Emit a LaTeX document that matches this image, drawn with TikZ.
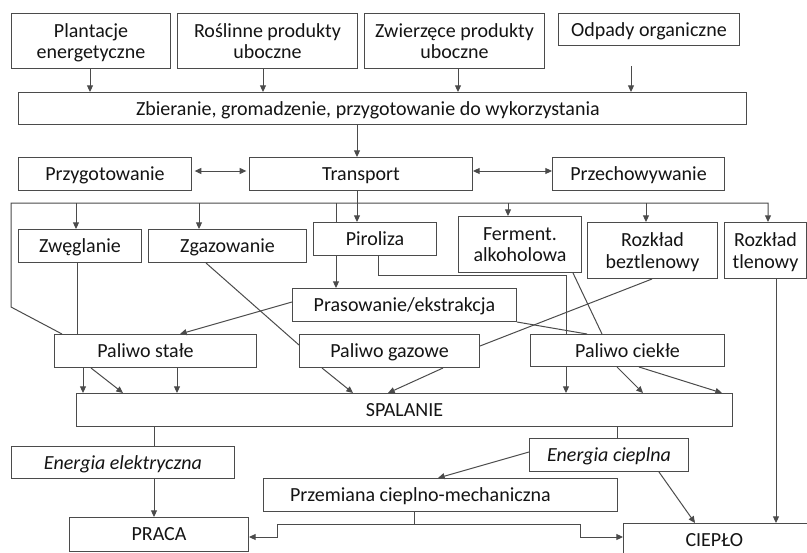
\documentclass[tikz,border=0pt]{standalone}
\usepackage{fontspec}
\setmainfont{Carlito}
\usetikzlibrary{arrows.meta}
\definecolor{lc}{RGB}{75,75,75}
\definecolor{tc}{RGB}{20,20,20}
\newcommand\bx[6]{%
  \pgfmathsetmacro\bxw{(#4-#2)*0.75}%
  \pgfmathsetmacro\bxh{(#5-#3)*0.75}%
  \node[box, minimum width=\bxw pt, minimum height=\bxh pt, anchor=north west] (#1) at (#2,#3) {#6};}
\begin{document}
\begin{tikzpicture}[x=0.75pt,y=-0.75pt,
  box/.style={draw=lc, line width=0.75pt, inner sep=0pt, align=center, text=tc,
    text depth=0pt, font=\fontsize{15pt}{16.2pt}\selectfont},
  ln/.style={draw=lc, line width=0.75pt},
  arr/.style={ln, -{Triangle[length=5pt,width=4.5pt]}},
  darr/.style={ln, {Triangle[length=5pt,width=4.5pt]}-{Triangle[length=5pt,width=4.5pt]}}]
\clip (0,0) rectangle (807,553);
\fill[white] (0,0) rectangle (807,553);
% boxes
\bx{plant}{11}{13}{170}{68}{Plantacje\\energetyczne}
\bx{rosl}{177}{13}{357}{68}{Roślinne produkty\\uboczne}
\bx{zwierz}{364}{13}{544}{68}{Zwierzęce produkty\\uboczne}
\bx{odp}{558}{13}{739}{45}{Odpady organiczne}
\bx{zb}{18}{92}{746}{124}{Zbieranie, gromadzenie, przygotowanie do wykorzystania\hspace*{22pt}}
\bx{przyg}{18}{157}{191}{190}{Przygotowanie}
\bx{trans}{249}{157}{472}{190}{Transport}
\bx{przech}{552}{157}{724}{190}{Przechowywanie}
\bx{zweg}{18}{229}{141}{262}{Zwęglanie}
\bx{zgaz}{148}{229}{306}{262}{Zgazowanie}
\bx{pir}{313}{222}{436}{255}{Piroliza}
\bx{ferm}{458}{216}{581}{272}{Ferment.\\alkoholowa}
\bx{bezt}{587}{222}{717}{278}{Rozkład\\beztlenowy}
\bx{tlen}{724}{222}{806}{278}{Rozkład\\tlenowy}
\bx{pras}{292}{288}{516}{321}{Prasowanie/ekstrakcja}
\bx{palst}{54}{334}{256}{367}{Paliwo stałe\hspace*{15pt}}
\bx{palg}{299}{334}{479}{367}{Paliwo gazowe}
\bx{palc}{530}{334}{724}{366}{Paliwo ciekłe}
\bx{spal}{76}{393}{732}{426}{SPALANIE}
\bx{enel}{11}{446}{234}{478}{\itshape Energia elektryczna}
\bx{encp}{529}{438}{688}{471}{\itshape Energia cieplna}
\bx{przem}{263}{478}{617}{511}{Przemiana cieplno-mechaniczna\hspace*{30pt}}
\bx{praca}{69}{517}{248}{551}{PRACA}
\bx{ciep}{623}{523}{818}{556}{\hspace*{-10pt}CIEPŁO}
% top inputs
\draw[arr] (plant.south -| 90,0) -- (zb.north -| 90,0);
\draw[arr] (rosl.south -| 263,0) -- (zb.north -| 263,0);
\draw[arr] (zwierz.south -| 458,0) -- (zb.north -| 458,0);
\coordinate (odpin) at (631,66);
\draw[arr] (odpin) -- (zb.north -| odpin);
\draw[arr] (zb.south -| 357,0) -- (trans.north -| 357,0);
\draw[darr, shorten <=2pt, shorten >=2pt] (przyg.east |- 0,171) -- (trans.west |- 0,171);
\draw[darr] (trans.east |- 0,171) -- (przech.west |- 0,171);
\draw[arr] (trans.south -| 357,0) -- (pir.north -| 357,0);
% bus
\coordinate (busL) at (11,203);
\coordinate (busR) at (768,203);
\draw[arr] (palst.north -| 62,0) -- (11,307) -- (busL) -- (busR) -- (tlen.north -| busR);
\draw[arr] (busL -| 76,0) -- (zweg.north -| 76,0);
\draw[arr] (busL -| 199,0) -- (zgaz.north -| 199,0);
\draw[arr] (busL -| 508,0) -- (ferm.north -| 508,0);
\draw[arr] (busL -| 646,0) -- (bezt.north -| 646,0);
\draw[ln] (busL -| 336,0) -- (pir.north -| 336,0);
% processes to fuels
\draw[arr] (pir.south -| 336,0) -- (pras.north -| 336,0);
\draw[ln] (pir.south -| 378,0) -- (378,275) -- (566,275) -- (palc.north -| 566,0);
\draw[ln] (zweg.south -| 77,0) -- (palst.north -| 77,0);
\draw[ln] (zgaz.south -| 206,0) -- (palg.west |- 0,345);
\draw[arr] (pras.west |- 0,302) -- (palst.north -| 180,0);
\draw[ln] (pras.south east) -- (palc.north -| 587,0);
\draw[ln] (ferm.south -| 573,0) -- (palc.north -| 602,0);
\draw[ln] (bezt.south -| 652,0) -- (palg.east |- 0,346);
\draw[arr] (tlen.south -| 776,0) -- (ciep.north -| 776,0);
% fuels to combustion
\draw[arr] (palst.south -| 83,0) -- (spal.north -| 83,0);
\draw[arr] (palst.south -| 91,0) -- (spal.north -| 123,0);
\draw[arr] (palst.south -| 177,0) -- (spal.north -| 177,0);
\draw[arr] (palg.south -| 322,0) -- (spal.north -| 353,0);
\draw[arr] (palg.south -| 443,0) -- (spal.north -| 388,0);
\draw[arr] (palc.south -| 566,0) -- (spal.north -| 566,0);
\draw[arr] (palc.south -| 617,0) -- (spal.north -| 643,0);
\draw[arr] (palc.south -| 639,0) -- (spal.north -| 722,0);
% energy
\draw[ln] (spal.south -| 154,0) -- (enel.north -| 154,0);
\draw[arr] (enel.south -| 154,0) -- (praca.north -| 154,0);
\draw[ln] (spal.south -| 617,0) -- (encp.north -| 617,0);
\draw[arr] (encp.west |- 0,452) -- (przem.north -| 438,0);
\draw[arr] (encp.south -| 659,0) -- (ciep.north -| 695,0);
\coordinate (j) at (414,524);
\draw[ln] (przem.south -| j) -- (j);
\draw[arr] (j) -- (277,524) -- (277,537) -- (praca.east |- 0,537);
\draw[arr] (j) -- (580,524) -- (580,537) -- (ciep.west |- 0,537);
\end{tikzpicture}
\end{document}
